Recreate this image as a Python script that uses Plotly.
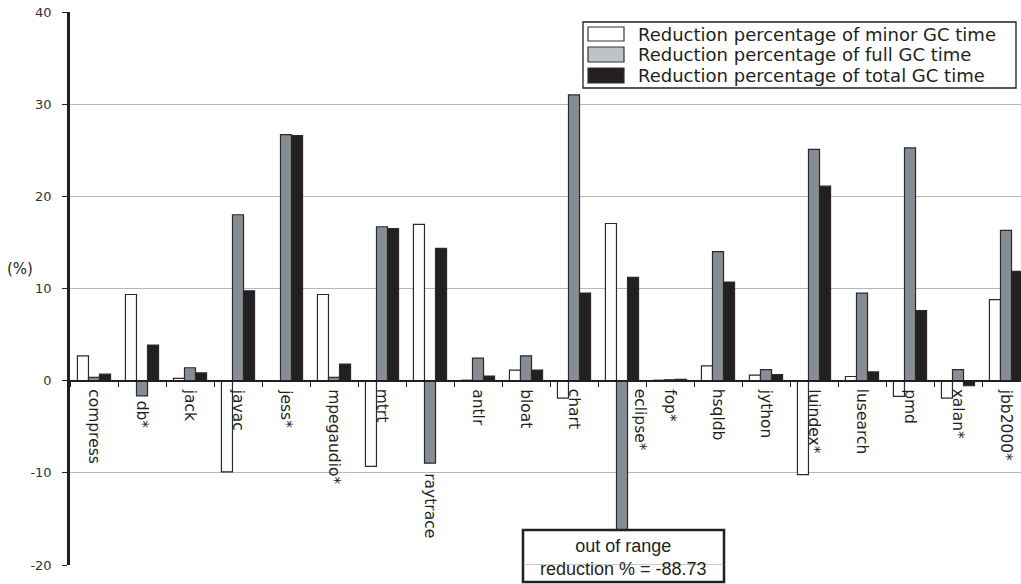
import plotly.graph_objects as go

categories = ["compress", "db*", "jack", "javac", "jess*", "mpegaudio*", "mtrt", "raytrace",
              "antlr", "bloat", "chart", "eclipse*", "fop*", "hsqldb", "jython", "luindex*",
              "lusearch", "pmd", "xalan*", "jbb2000*"]
minor_gc = [2.7, 9.35, 0.25, -9.9, 0.0, 9.35, -9.3, 16.95, 0.05, 1.15, -1.9, 17.05, 0.05, 1.6,
            0.6, -10.2, 0.45, -1.7, -1.9, 8.8]
full_gc = [0.35, -1.65, 1.4, 18.0, 26.7, 0.35, 16.7, -8.95, 2.45, 2.7, 31.0, -88.73, 0.1, 14.0,
           1.2, 25.1, 9.5, 25.25, 1.2, 16.3]
total_gc = [0.7, 3.85, 0.85, 9.75, 26.6, 1.8, 16.5, 14.35, 0.5, 1.15, 9.5, 11.2, 0.15, 10.7,
            0.65, 21.1, 0.95, 7.6, -0.55, 11.85]
series_names = ["Reduction percentage of minor GC time",
                "Reduction percentage of full GC time",
                "Reduction percentage of total GC time"]
y_ticks = [-20, -10, 0, 10, 20, 30, 40]
y_tick_labels = ["-20", "-10", "0", "10", "20", "30", "40"]
out_of_range_text = "out of range<br>reduction % = -88.73"

W, H = 1021, 584
ML, MR, MT, MB = 70, 0, 12, 19
PW, PH = W - ML - MR, H - MT - MB
INK = "#231f20"
GRID = "#b4b8bd"


def px(x):
    return (x - ML) / PW


def py(y):
    return (H - MB - y) / PH


fig = go.Figure()
fills = ["#ffffff", "#878d94", INK]
for name, vals, col in zip(series_names, [minor_gc, full_gc, total_gc], fills):
    fig.add_trace(go.Bar(x=categories, y=vals, name=name, showlegend=False,
                         marker=dict(color=col, line=dict(color="#2a2a2a", width=1.2))))

annotations = []
# category labels below the zero line
label_shift = {"raytrace": (0, -84), "eclipse*": (18, 0), "db*": (0, -12)}
for c in categories:
    dx, dy = label_shift.get(c, (0, 0))
    annotations.append(dict(x=c, y=0, xref="x", yref="y", text=c, showarrow=False,
                            textangle=90, yanchor="top", xanchor="center",
                            xshift=dx, yshift=-6 + dy,
                            font=dict(family="DejaVu Sans", size=15.5, color=INK)))

# (%) axis label
annotations.append(dict(x=px(20), y=py(269), xref="paper", yref="paper", text="(%)",
                        showarrow=False, xanchor="center", yanchor="middle",
                        font=dict(family="DejaVu Sans", size=15, color=INK)))

shapes = []
# legend
lx0, ly0, lx1, ly1 = 583, 22, 1016, 88
shapes.append(dict(type="rect", xref="paper", yref="paper", x0=px(lx0), x1=px(lx1),
                   y0=py(ly1), y1=py(ly0), line=dict(color=INK, width=1.3),
                   fillcolor="white", layer="above"))
sw_fill = ["#ffffff", "#bfc3c8", INK]
rows = [(27, 41), (47, 62), (68, 83)]
for (t, b), f, name in zip(rows, sw_fill, series_names):
    shapes.append(dict(type="rect", xref="paper", yref="paper", x0=px(588), x1=px(624),
                       y0=py(b), y1=py(t), line=dict(color="#333333", width=1.2),
                       fillcolor=f, layer="above"))
    annotations.append(dict(x=px(636), y=py((t + b) / 2), xref="paper", yref="paper",
                            text=name, showarrow=False, xanchor="left", yanchor="middle",
                            font=dict(family="DejaVu Sans", size=18, color=INK)))

# out-of-range box
bx0, by0, bx1, by1 = 523, 530, 724, 582
shapes.append(dict(type="rect", xref="paper", yref="paper", x0=px(bx0), x1=px(bx1),
                   y0=py(by1), y1=py(by0), line=dict(color=INK, width=2.5),
                   fillcolor="white", layer="above"))
shapes.append(dict(type="line", xref="paper", yref="y", x0=px(bx0), x1=px(bx1),
                   y0=-20, y1=-20, line=dict(color="#909499", width=1), layer="above"))
annotations.append(dict(x=px((bx0 + bx1) / 2), y=py((by0 + by1) / 2 + 1), xref="paper",
                        yref="paper", text=out_of_range_text, showarrow=False,
                        xanchor="center", yanchor="middle",
                        font=dict(family="Liberation Sans", size=18, color=INK)))

fig.update_layout(
    width=W, height=H, margin=dict(l=ML, r=MR, t=MT, b=MB),
    paper_bgcolor="white", plot_bgcolor="white",
    barmode="group", bargap=0.31, bargroupgap=0,
    annotations=annotations, shapes=shapes,
    xaxis=dict(type="category", range=[-0.5, 19.3125], showgrid=False,
               showticklabels=False, ticks="outside", tickson="boundaries",
               ticklen=5, tickcolor=INK, showline=True, linecolor=INK, linewidth=2,
               anchor="free", position=1 / 3, fixedrange=True),
    yaxis=dict(range=[-20, 40], tickvals=y_ticks, ticktext=y_tick_labels, showgrid=True,
               gridcolor=GRID, gridwidth=1, zeroline=True, zerolinecolor=INK,
               zerolinewidth=2, showline=True, linecolor=INK, linewidth=2.5,
               ticks="outside", ticklen=5, tickcolor=INK, ticklabelstandoff=8,
               tickfont=dict(family="DejaVu Sans", size=13, color="#333333")),
)

fig.write_html("out.html", config={"displayModeBar": False},
               post_script="document.body.style.margin='0';"
                           "document.body.style.overflow='hidden';")
